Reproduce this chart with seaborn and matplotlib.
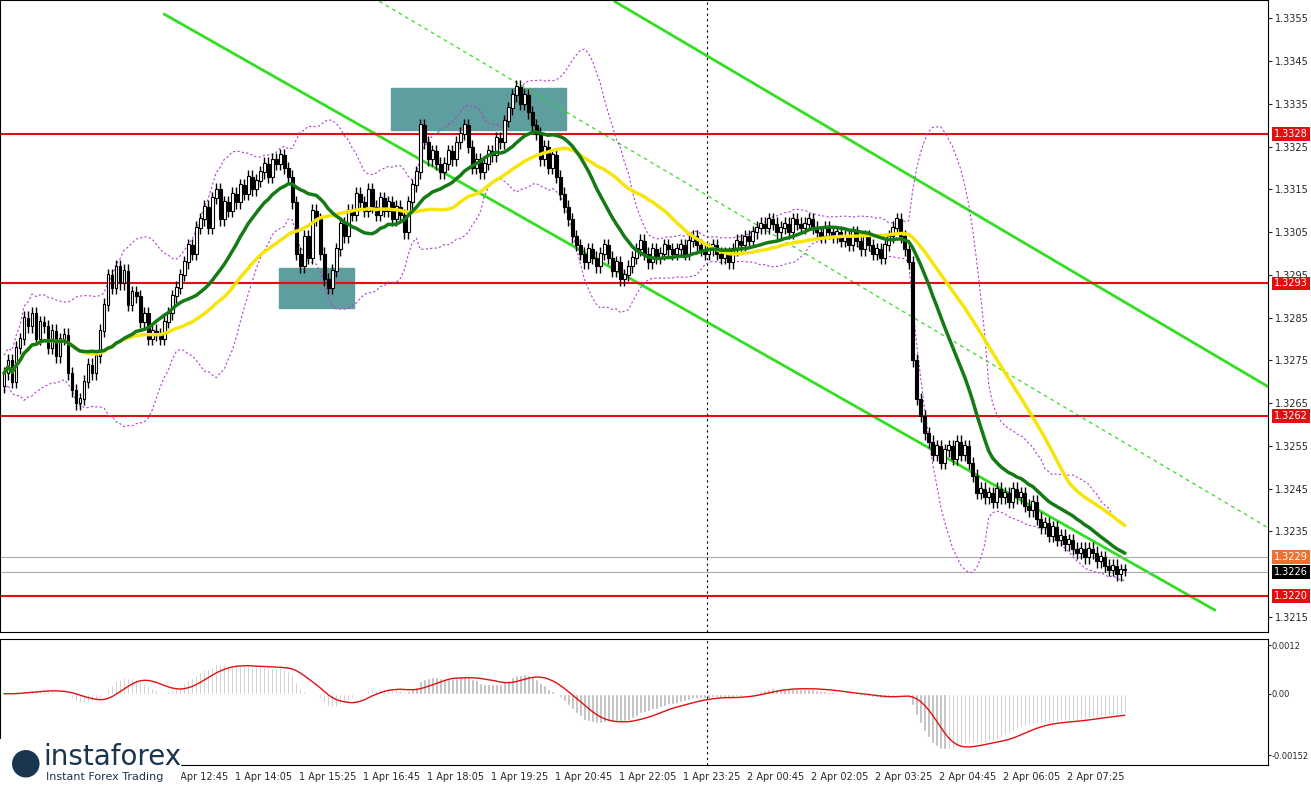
import numpy as np
import pandas as pd
import matplotlib
matplotlib.use("Agg")
import matplotlib.pyplot as plt
import seaborn as sns

sns.set_style("white")
plt.rcParams['font.family'] = ['DejaVu Sans']

base_price = 1.3200
close_pips = [72,75,70,78,80,85, 83,86,80,84,83, 78,82,76,80,81, 72,68,65,66, 70,74,72,76,
 82,88,95,92,97, 93,96,88,91,90, 84,86,80,82,81, 80,84,86,90,92, 95,98,102,100,106,
 108,111,106,113,115, 108,112,110,114,112, 116,114,118,115,117, 119,121,118,122,121,
 123,120,118,112,100, 97,104,99,110,108, 100,94,92,96,101, 107,104,110,109,114,
 112,110,115,111,109, 113,110,112,108,111, 109,105,112,116,119, 130,126,122,124,121,
 119,121,124,122,126, 128,130,125,120,122, 119,121,124,123,127, 126,131,134,137,139,
 135,137,133,130,128, 122,125,120,123,118, 114,111,108,104,102, 100,98,101,99,97,
 100,102,99,96,98, 94,95,97,99,101, 103,100,98,101,99, 100,102,101,100,101,
 102,100,103,104,102, 101,100,101,102,100, 99,100,98,101,103, 102,104,103,105,106,
 107,106,108,107,105, 106,107,105,108,107, 106,107,108,106,105, 104,106,105,104,105,
 103,104,102,105,103, 101,104,102,100,101, 99,102,104,106,108, 104,101,98,75,66,
 62,58,56,53,55, 51,54,55,52,56, 53,55,51,48,44, 45,43,44,42,45, 43,44,42,45,43,
 44,41,40,42,38, 36,37,34,36,33, 34,32,33,31,30, 31,29,31,30,28, 29,27,26,27,25,26,26]

time_labels = ["1 Apr 12:45","1 Apr 14:05","1 Apr 15:25","1 Apr 16:45","1 Apr 18:05",
 "1 Apr 19:25","1 Apr 20:45","1 Apr 22:05","1 Apr 23:25","2 Apr 00:45","2 Apr 02:05",
 "2 Apr 03:25","2 Apr 04:45","2 Apr 06:05","2 Apr 07:25"]
levels = [1.3328, 1.3293, 1.3262, 1.3220]
price_ticks = [1.3355,1.3345,1.3335,1.3325,1.3315,1.3305,1.3295,1.3285,1.3275,1.3265,
 1.3255,1.3245,1.3235,1.3215]
# channel lines: (x0, price0, x1, price1)
channel_lines = [(40, 1.3356, 302.5, 1.32166), (152.5, 1.3359, 317, 1.32682)]
dashed_line = (93.75, 1.3359, 317, 1.32352)
boxes = [(68.75, 1.32873, 87.5, 1.32966), (96.75, 1.33289, 140.5, 1.33387)]

closes = np.array([base_price + p/10000 for p in close_pips])
n = len(closes)
idx = np.arange(n)
opens = np.concatenate([[closes[0]-0.0003], closes[:-1]])
highs = np.maximum(opens, closes) + 0.00015
lows = np.minimum(opens, closes) - 0.00015
s = pd.Series(closes)
ma_fast = s.rolling(20, min_periods=1).mean()
ma_slow = s.rolling(40, min_periods=1).mean()
bb_mid = s.rolling(20, min_periods=1).mean()
bb_std = s.rolling(20, min_periods=2).std().bfill()
macd = s.ewm(span=12).mean() - s.ewm(span=26).mean()
signal = macd.rolling(9, min_periods=1).mean()

fig = plt.figure(figsize=(13.11, 7.86), dpi=100)
ax = fig.add_axes([0.0, 0.196, 0.967, 0.804])
ax2 = fig.add_axes([0.0, 0.027, 0.967, 0.16], sharex=ax)

xmin, xmax = -1, 315.7
ax.set_xlim(xmin, xmax)
ax.set_ylim(1.32115, 1.33593)

for x0, p0, x1, p1 in channel_lines:
    ax.plot([x0, x1], [p0, p1], color="#33dd22", lw=2, zorder=2)
ax.plot([dashed_line[0], dashed_line[2]], [dashed_line[1], dashed_line[3]],
        color="#33dd22", lw=0.9, ls=(0, (3, 3)), zorder=2)
for lv in levels:
    ax.axhline(lv, color="#e01010", lw=1.5, zorder=2)
ax.axhline(1.3229, color="#aaaaaa", lw=0.8)
ax.axhline(1.32255, color="#aaaaaa", lw=0.8)
ax.axvline(175.6, color="black", lw=0.8, ls=(0, (2, 3)))
ax2.axvline(175.6, color="black", lw=0.8, ls=(0, (2, 3)))
for x0, p0, x1, p1 in boxes:
    ax.add_patch(plt.Rectangle((x0, p0), x1-x0, p1-p0, color="#5f9e9e", zorder=1.5))

ax.plot(idx, bb_mid + 2*bb_std, color="#b040d0", lw=0.8, ls=(0, (2, 2)), zorder=2)
ax.plot(idx, bb_mid - 2*bb_std, color="#b040d0", lw=0.8, ls=(0, (2, 2)), zorder=2)

ax.vlines(idx, lows, highs, color="black", lw=1, zorder=3)
up = closes >= opens
ax.bar(idx[up], (closes-opens)[up] + 0.00002, bottom=opens[up], width=0.7,
       color="white", edgecolor="black", lw=0.8, zorder=4)
ax.bar(idx[~up], (opens-closes)[~up], bottom=closes[~up], width=0.7,
       color="black", edgecolor="black", lw=0.8, zorder=4)

df = pd.DataFrame({"i": idx, "fast": ma_fast, "slow": ma_slow})
sns.lineplot(data=df, x="i", y="slow", ax=ax, color="#f5e50a", lw=2.5, zorder=5)
sns.lineplot(data=df, x="i", y="fast", ax=ax, color="#157a15", lw=2.5, zorder=6)
ax.set_xlabel(""); ax.set_ylabel("")

ax.yaxis.tick_right()
ax.set_yticks(price_ticks)
ax.set_yticklabels([f"{t:.4f}" for t in price_ticks], fontsize=7)
ax.tick_params(axis="y", length=3, pad=2)
ax.tick_params(axis="x", bottom=False, labelbottom=False)
for lv in levels:
    ax.text(1.005, lv, f"{lv:.4f}", transform=ax.get_yaxis_transform(), fontsize=7,
            color="white", va="center", ha="left",
            bbox=dict(boxstyle="square,pad=0.2", fc="#e01010", ec="none"))
ax.text(1.005, 1.3229, "1.3229", transform=ax.get_yaxis_transform(), fontsize=7,
        color="white", va="center", ha="left",
        bbox=dict(boxstyle="square,pad=0.2", fc="#f07030", ec="none"))
ax.text(1.005, 1.32255, "1.3226", transform=ax.get_yaxis_transform(), fontsize=7,
        color="white", va="center", ha="left",
        bbox=dict(boxstyle="square,pad=0.2", fc="black", ec="none"))

ax2.bar(idx, macd, width=0.6, color="#b8b8b8")
ax2.plot(idx, signal, color="#e01010", lw=1)
ax2.set_ylim(-0.00175, 0.00135)
ax2.yaxis.tick_right()
ax2.set_yticks([0.0012, 0.0, -0.00152])
ax2.set_yticklabels(["0.0012", "0.00", "-0.00152"], fontsize=6)
ax2.tick_params(axis="y", length=2, pad=1)
tick_pos = [48.75 + 16*k for k in range(len(time_labels))]
ax2.set_xticks(tick_pos)
ax2.set_xticklabels(time_labels, fontsize=7)
ax2.tick_params(axis="x", length=3, pad=2)
for a in (ax, ax2):
    for sp in a.spines.values():
        sp.set_color("black"); sp.set_linewidth(0.8)

fig.patches.append(plt.Rectangle((0.0, 0.0), 0.137, 0.06, transform=fig.transFigure,
                                 color="white", zorder=10))
fig.text(0.008, 0.03, "\u25cf", fontsize=26, color="#1a3550", va="center", zorder=11)
fig.text(0.033, 0.037, "instaforex", fontsize=20, color="#1a3550", va="center", zorder=11)
fig.text(0.035, 0.011, "Instant Forex Trading", fontsize=8, color="#1a3550", va="center", zorder=11)

fig.savefig("out.png", dpi=100)
